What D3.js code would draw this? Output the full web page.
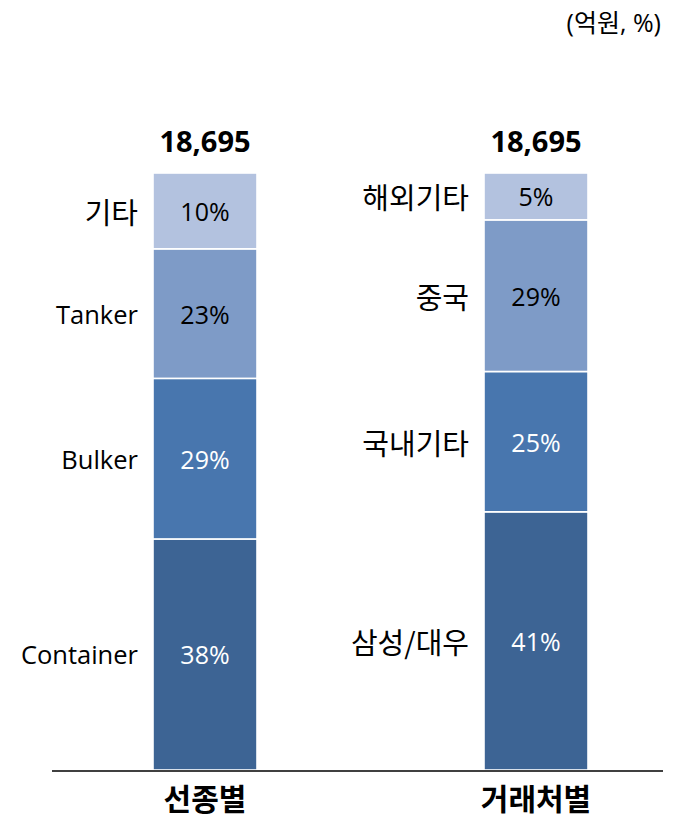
<!DOCTYPE html>
<html>
<head>
<meta charset="utf-8">
<script src="https://cdn.jsdelivr.net/npm/d3@7"></script>
<style>
  html, body { margin: 0; padding: 0; background: #fff; }
  svg { display: block; }
</style>
</head>
<body>
<script>
// ---- data ----
const groups = ["선종별", "거래처별"];
const totals = ["18,695", "18,695"];
// segments listed bottom to top
const shipTypeNames = ["Container", "Bulker", "Tanker", "기타"];
const shipTypeShareDrawn = [38.7, 26.9, 21.7, 12.7];   // bar heights as drawn
const shipTypeLabels = ["38%", "29%", "23%", "10%"];
const clientNames = ["삼성/대우", "국내기타", "중국", "해외기타"];
const clientShareDrawn = [43.25, 23.5, 25.4, 7.85];     // bar heights as drawn
const clientLabels = ["41%", "25%", "29%", "5%"];
const unitLabel = "(억원, %)";

const segColors = ["#3D6494", "#4876AE", "#7E9BC7", "#B3C2DF"];
const labelColors = ["#ffffff", "#ffffff", "#000000", "#000000"];

// ---- layout ----
const W = 679, H = 817;
const barW = 104;
const svg = d3.select("body").append("svg").attr("width", W).attr("height", H);

const x = d3.scalePoint().domain(groups).range([205, 536]);
const y = d3.scaleLinear().domain([0, 100]).range([770, 173]);

const latinStack = "'Open Sans','Noto Sans CJK KR',sans-serif";
const cjkStack = "'Noto Sans CJK KR',sans-serif";
const isHangul = s => /[\uAC00-\uD7A3]/.test(s);

const series = [
  { group: groups[0], names: shipTypeNames, values: shipTypeShareDrawn, labels: shipTypeLabels, total: totals[0] },
  { group: groups[1], names: clientNames, values: clientShareDrawn, labels: clientLabels, total: totals[1] }
];

series.forEach(s => {
  let acc = 0;
  const segs = s.values.map((v, i) => {
    const d = { y0: acc, y1: acc + v, name: s.names[i], label: s.labels[i], i };
    acc += v;
    return d;
  });
  const g = svg.append("g");
  const cx = x(s.group), bx = cx - barW / 2;

  g.selectAll("rect").data(segs).join("rect")
    .attr("x", bx).attr("width", barW)
    .attr("y", d => y(d.y1)).attr("height", d => y(d.y0) - y(d.y1))
    .attr("fill", d => segColors[d.i])
    .attr("stroke", "#ffffff").attr("stroke-width", 1.6);

  g.selectAll("text.pct").data(segs).join("text")
    .attr("class", "pct")
    .attr("x", cx).attr("y", d => y((d.y0 + d.y1) / 2))
    .attr("text-anchor", "middle").attr("dominant-baseline", "central")
    .attr("font-family", latinStack).attr("font-size", 25)
    .attr("fill", d => labelColors[d.i])
    .text(d => d.label);

  g.selectAll("text.name").data(segs).join("text")
    .attr("class", "name")
    .attr("x", bx - 15).attr("y", d => y((d.y0 + d.y1) / 2))
    .attr("text-anchor", "end").attr("dominant-baseline", "central")
    .attr("font-family", d => isHangul(d.name) ? cjkStack : latinStack)
    .attr("font-size", d => isHangul(d.name) ? 29 : 25.5)
    .attr("fill", "#000")
    .text(d => d.name);

  g.append("text")
    .attr("x", cx).attr("y", y(100) - 33)
    .attr("text-anchor", "middle").attr("dominant-baseline", "central")
    .attr("font-family", latinStack).attr("font-weight", "bold").attr("font-size", 29)
    .attr("fill", "#000")
    .text(s.total);

  g.append("text")
    .attr("x", cx).attr("y", 797)
    .attr("text-anchor", "middle").attr("dominant-baseline", "central")
    .attr("font-family", cjkStack).attr("font-weight", "bold").attr("font-size", 30)
    .attr("fill", "#000")
    .text(s.group);
});

// baseline
svg.append("line")
  .attr("x1", 52).attr("x2", 663).attr("y1", y(0) + 1).attr("y2", y(0) + 1)
  .attr("stroke", "#404040").attr("stroke-width", 2);

// unit
svg.append("text")
  .attr("x", 661).attr("y", 22)
  .attr("text-anchor", "end").attr("dominant-baseline", "central")
  .attr("font-family", latinStack).attr("font-size", 25)
  .attr("fill", "#000")
  .text(unitLabel);
</script>
</body>
</html>
